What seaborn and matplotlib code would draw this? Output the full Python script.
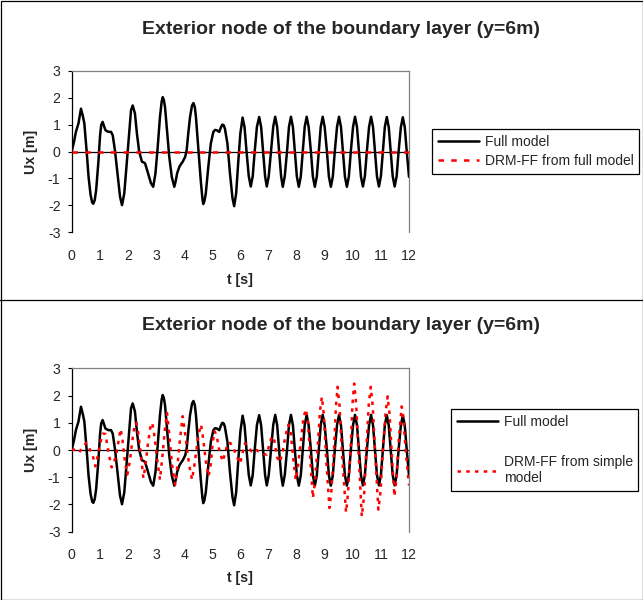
import matplotlib
matplotlib.use("Agg")
import matplotlib.pyplot as plt
import seaborn as sns
import pandas as pd
from matplotlib.lines import Line2D
from matplotlib.patches import Rectangle

# ---------------- data ----------------
full_t = [0.00, 0.08, 0.15, 0.24, 0.33, 0.40, 0.45, 0.53, 0.60, 0.67, 0.73, 0.77, 0.82, 0.87, 0.95,
          1.01, 1.05, 1.10, 1.15, 1.20, 1.30, 1.40, 1.46, 1.54, 1.64, 1.72, 1.79, 1.87, 1.93,
          2.01, 2.11, 2.17, 2.25, 2.32, 2.40, 2.50, 2.55, 2.61, 2.70, 2.82, 2.90, 2.98,
          3.06, 3.14, 3.20, 3.24, 3.28, 3.32, 3.39, 3.47, 3.56, 3.65, 3.70, 3.75, 3.83, 3.90, 3.95,
          4.04, 4.09, 4.15, 4.21, 4.28, 4.33, 4.38, 4.42, 4.51, 4.59, 4.65, 4.68, 4.72, 4.77, 4.86, 4.95,
          5.04, 5.10, 5.16, 5.25, 5.31, 5.36, 5.41, 5.45, 5.54, 5.63, 5.72, 5.78, 5.85, 5.93,
          6.00, 6.08, 6.15, 6.22, 6.30, 6.37, 6.44, 6.51, 6.59, 6.67, 6.74, 6.81, 6.88, 6.94,
          7.01, 7.09, 7.17, 7.24, 7.31, 7.38, 7.45, 7.51, 7.58, 7.66, 7.73, 7.80, 7.87, 7.94,
          8.01, 8.08, 8.15, 8.22, 8.29, 8.36, 8.43, 8.51, 8.58, 8.65, 8.72, 8.79, 8.86, 8.93,
          9.00, 9.08, 9.15, 9.22, 9.29, 9.36, 9.44, 9.51, 9.58, 9.65, 9.72, 9.79, 9.86, 9.93,
          10.01, 10.08, 10.15, 10.22, 10.29, 10.36, 10.43, 10.50, 10.58, 10.65, 10.72, 10.79, 10.86, 10.93,
          11.00, 11.07, 11.14, 11.21, 11.28, 11.35, 11.42, 11.49, 11.56, 11.63, 11.71, 11.78, 11.85, 11.92,
          12.00]
full_u = [0.00, 0.35, 0.73, 1.04, 1.59, 1.30, 1.04, 0.03, -0.94, -1.60, -1.90, -1.94, -1.80, -1.43, -0.38,
          0.60, 0.98, 1.10, 0.95, 0.79, 0.73, 0.73, 0.60, 0.03, -0.94, -1.68, -1.99, -1.56, -0.81,
          0.23, 1.53, 1.71, 1.41, 0.67, 0.00, -0.38, -0.40, -0.44, -0.75, -1.18, -1.31, -0.81,
          0.17, 1.28, 1.85, 2.02, 1.90, 1.65, 0.79, -0.19, -0.94, -1.31, -1.10, -0.81, -0.57, -0.45, -0.38,
          -0.19, 0.05, 0.70, 1.28, 1.70, 1.80, 1.65, 1.28, 0.05, -1.06, -1.75, -1.95, -1.85, -1.56, -0.57, 0.30,
          0.73, 0.80, 0.79, 0.73, 0.90, 1.00, 0.97, 0.85, 0.30, -0.81, -1.73, -2.03, -1.56, -0.32,
          0.67, 1.26, 0.90, 0.00, -0.92, -1.30, -0.92, 0.00, 0.92, 1.28, 0.90, 0.00, -0.92, -1.30,
          -0.92, 0.00, 0.92, 1.29, 0.91, 0.00, -0.92, -1.31, -0.92, 0.00, 0.92, 1.29, 0.91, 0.00,
          -0.93, -1.31, -0.93, 0.00, 0.92, 1.29, 0.91, 0.00, -0.93, -1.31, -0.93, 0.00, 0.92, 1.29,
          0.91, 0.00, -0.93, -1.31, -0.93, 0.00, 0.92, 1.29, 0.91, 0.00, -0.93, -1.31, -0.93, 0.00,
          0.92, 1.29, 0.91, 0.00, -0.93, -1.30, -0.92, 0.00, 0.92, 1.29, 0.91, 0.00, -0.92, -1.30,
          -0.92, 0.00, 0.91, 1.28, 0.90, 0.00, -0.92, -1.30, -0.92, 0.00, 0.90, 1.27, 0.90, 0.00,
          -0.94]

drm_full_t = [0.0, 3.0, 6.0, 9.0, 12.0]
drm_full_u = [0.0, 0.0, 0.0, 0.0, 0.0]

drm_simple_t = [0.00, 0.15, 0.27, 0.40, 0.51, 0.63, 0.75, 0.84, 0.92, 1.00, 1.10, 1.20, 1.27, 1.34, 1.42,
                1.50, 1.58, 1.66, 1.74, 1.81, 1.90, 1.98, 2.07, 2.17, 2.23, 2.30, 2.38, 2.47, 2.55,
                2.62, 2.70, 2.79, 2.86, 2.92, 3.03, 3.14, 3.23, 3.32, 3.39, 3.47, 3.57, 3.68, 3.77,
                3.85, 3.95, 4.05, 4.13, 4.21, 4.28, 4.36, 4.45, 4.52, 4.60, 4.68, 4.77, 4.87, 4.95,
                5.02, 5.08, 5.15, 5.25, 5.37, 5.45, 5.55, 5.65, 5.78, 5.90, 5.99, 6.08, 6.17, 6.28,
                6.40, 6.52, 6.64, 6.76, 6.85, 6.94, 7.03, 7.12, 7.20, 7.30, 7.40, 7.50, 7.60, 7.71,
                7.78, 7.88, 7.97, 8.05, 8.15, 8.25, 8.33, 8.40, 8.48, 8.58, 8.65, 8.75, 8.83, 8.90,
                8.97, 9.05, 9.17, 9.24, 9.33, 9.40, 9.46, 9.53, 9.62, 9.76, 9.83, 9.92, 9.99, 10.05,
                10.12, 10.20, 10.32, 10.40, 10.48, 10.57, 10.64, 10.71, 10.79, 10.91, 10.99, 11.07,
                11.17, 11.24, 11.31, 11.38, 11.48, 11.55, 11.63, 11.74, 11.80, 11.88, 12.00]
drm_simple_u = [0.00, 0.02, -0.08, 0.10, 0.26, 0.05, -0.20, -0.60, -0.25, 0.18, 0.60, 0.59, 0.15, -0.25, -0.64,
                -0.45, -0.20, 0.28, 0.77, 0.35, -0.50, -0.90, -0.40, 0.44, 0.85, 1.00, 0.55, -0.29, -1.03,
                -0.60, 0.13, 0.80, 1.00, 0.70, -0.25, -1.09, -0.20, 0.80, 1.36, 0.60, -0.54, -1.27, -0.50,
                0.38, 1.24, 0.50, -0.20, -0.72, -1.09, -0.60, 0.10, 0.60, 0.93, 0.40, -0.40, -0.97, -0.50,
                0.30, 0.69, 0.55, 0.00, -0.42, -0.15, 0.26, 0.25, 0.00, -0.30, -0.50, -0.10, 0.25, 0.10,
                -0.05, 0.05, -0.05, -0.10, -0.15, -0.17, 0.20, 0.50, 0.40, -0.25, -0.45, -0.10, 0.50, 0.93,
                0.75, -0.30, -1.10, -0.60, 0.30, 1.20, 1.50, 1.10, -0.20, -1.76, -1.20, 0.10, 1.40, 1.95,
                1.30, -0.30, -2.13, -1.50, 0.00, 1.60, 2.32, 1.60, -0.20, -2.29, -1.60, 0.00, 1.70, 2.44,
                1.70, 0.00, -2.44, -1.70, 0.00, 1.70, 2.32, 1.60, 0.00, -2.19, -1.50, 0.00,
                1.40, 1.97, 1.30, 0.00, -1.70, -1.10, 0.30, 1.60, 1.20, 0.00, -1.30]

title_text = "Exterior node of the boundary layer (y=6m)"
x_ticks = list(range(0, 13))
y_ticks = [-3, -2, -1, 0, 1, 2, 3]
label_full = "Full model"
label_drm_top = "DRM-FF from full model"
label_drm_bottom = "DRM-FF from simple\nmodel"

# ---------------- style ----------------
sns.set_theme(style="white")
plt.rcParams["font.family"] = ["Liberation Sans", "DejaVu Sans"]

W, H = 643, 600
fig = plt.figure(figsize=(W / 100, H / 100), dpi=100)


def fx(px):
    return px / W


def fy(py):
    return 1 - py / H


FS = 10.2
LFS = 10.0

df_full = pd.DataFrame({"t": full_t, "u": full_u})
df_drm_full = pd.DataFrame({"t": drm_full_t, "u": drm_full_u})
df_drm_simple = pd.DataFrame({"t": drm_simple_t, "u": drm_simple_u})


def make_panel(ax_top_px, ax_bot_px, drm_df, drm_dash, drm_lw, drm_label, title_y, xlabel_y, legend_box):
    left, right = 71.7, 409.0
    ax = fig.add_axes([fx(left), fy(ax_bot_px), (right - left) / W, (ax_bot_px - ax_top_px) / H])
    ax.axhline(0, color="black", lw=0.9, zorder=1)
    sns.lineplot(data=df_full, x="t", y="u", ax=ax, color="black", linewidth=1.8,
                 sort=False, errorbar=None, zorder=3)
    sns.lineplot(data=drm_df, x="t", y="u", ax=ax, color="#ff0000", linewidth=drm_lw,
                 sort=False, errorbar=None, linestyle=(0, drm_dash), zorder=4)
    ax.set_xlim(0, 12)
    ax.set_ylim(-3, 3)
    ax.set_xticks(x_ticks)
    ax.set_xticklabels([str(v) for v in x_ticks], fontsize=FS)
    ax.set_yticks(y_ticks)
    ax.set_yticklabels([str(v) for v in y_ticks], fontsize=FS)
    ax.tick_params(axis="x", length=0, pad=12)
    ax.tick_params(axis="y", length=3, width=0.8, pad=5, left=True, direction="out", color="black")
    ax.set_xlabel("")
    ax.set_ylabel("")
    ax.grid(False)
    ax.set_facecolor("white")
    ax.spines["left"].set_color("black")
    ax.spines["left"].set_linewidth(0.9)
    for s in ("top", "right"):
        ax.spines[s].set_color("#808080")
        ax.spines[s].set_linewidth(0.9)
    ax.spines["bottom"].set_visible(False)

    fig.text(fx(341), fy(title_y), title_text, ha="center", va="center",
             fontsize=14, fontweight="bold")
    fig.text(fx(240), fy(xlabel_y), "t [s]", ha="center", va="center",
             fontsize=FS, fontweight="bold")
    fig.text(fx(31), fy((ax_top_px + ax_bot_px) / 2), "Ux [m]", ha="center", va="center",
             rotation=90, fontsize=FS, fontweight="bold")

    handles = [Line2D([], [], color="black", lw=1.8),
               Line2D([], [], color="#ff0000", lw=drm_lw, linestyle=(0, drm_dash))]
    lx, ly, lspacing = legend_box
    leg = fig.legend(handles, [label_full, drm_label], loc="upper left",
                     bbox_to_anchor=(fx(lx), fy(ly)), bbox_transform=fig.transFigure,
                     fontsize=LFS, frameon=True, fancybox=False, framealpha=1,
                     edgecolor="black", handlelength=3.0, handletextpad=0.4,
                     borderpad=0.4, labelspacing=lspacing, borderaxespad=0)
    leg.get_frame().set_linewidth(0.9)
    return ax


make_panel(70.7, 232.3, df_drm_full, (2.2, 2.9), 1.8, label_drm_top, 30, 280, (432, 129, 0.4))
make_panel(368.3, 531.7, df_drm_simple, (1.4, 2.1), 1.8, label_drm_bottom, 326, 578, (451, 409, 1.9))

# chart frames
fig.add_artist(Rectangle((fx(0.5), fy(599.5)), fx(642), (599) / H, transform=fig.transFigure,
                         fill=False, edgecolor="black", lw=0.9))
fig.add_artist(Line2D([0, 1], [fy(300), fy(300)], transform=fig.transFigure, color="black", lw=0.9))

fig.savefig("out.png", dpi=100, facecolor="white")
